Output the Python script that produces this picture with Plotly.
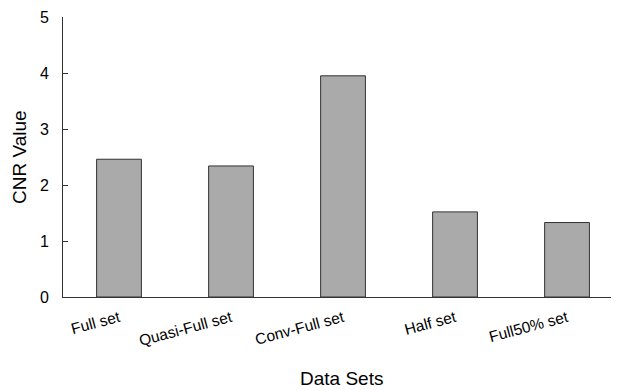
import plotly.graph_objects as go

categories = ["Full set", "Quasi-Full set", "Conv-Full set", "Half set", "Full50% set"]
cnr_values = [2.46, 2.34, 3.95, 1.52, 1.33]
y_ticks = [0, 1, 2, 3, 4, 5]

FONT = "Liberation Sans, Arial, sans-serif"

fig = go.Figure(
    go.Bar(
        x=categories,
        y=cnr_values,
        width=0.4,
        marker=dict(color="#aaaaaa", line=dict(color="#333333", width=1)),
    )
)

# page body has an 8px default margin, so the figure is sized/offset to compensate
fig.update_layout(
    width=611,
    height=382,
    margin=dict(l=55, r=0, t=9, b=92.5, autoexpand=False),
    plot_bgcolor="white",
    paper_bgcolor="white",
    font=dict(family=FONT, color="black"),
    showlegend=False,
    annotations=[
        dict(text="Data Sets", xref="paper", yref="paper", x=0.5, y=0, yshift=-81,
             xanchor="center", yanchor="middle", showarrow=False,
             font=dict(size=19, family=FONT, color="black")),
        dict(text="CNR Value", xref="paper", yref="paper", x=0, xshift=-44, y=0.5,
             xanchor="center", yanchor="middle", textangle=-90, showarrow=False,
             font=dict(size=19, family=FONT, color="black")),
    ],
)

fig.update_xaxes(
    range=[-0.5, 4.464],
    automargin=False,
    showline=True,
    linecolor="#333333",
    linewidth=1,
    ticks="",
    tickangle=-15,
    tickfont=dict(size=15.5, family=FONT, color="black"),
    ticklabelstandoff=5,
    showgrid=False,
    zeroline=False,
)

fig.update_yaxes(
    range=[0, 5],
    automargin=False,
    tickvals=y_ticks,
    showline=True,
    linecolor="#333333",
    linewidth=1,
    ticks="inside",
    ticklen=5,
    tickcolor="#333333",
    tickfont=dict(size=16, family=FONT, color="black"),
    ticklabelstandoff=10,
    showgrid=False,
    zeroline=False,
)

fig.write_html("out.html")
